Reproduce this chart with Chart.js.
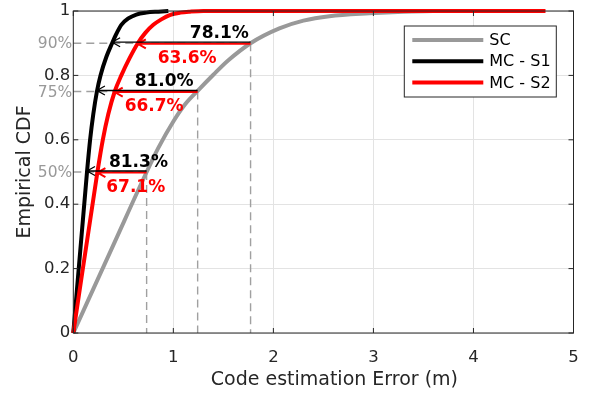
<!DOCTYPE html>
<html>
<head>
<meta charset="utf-8">
<script src="https://cdn.jsdelivr.net/npm/chart.js@4"></script>
<style>
  body { margin: 0; background: #fff; }
  #wrap { width: 590px; height: 393px; }
</style>
</head>
<body>
<div id="wrap"><canvas id="cdfChart"></canvas></div>
<script>
// curves
const seriesNames = ['SC', 'MC - S1', 'MC - S2'];
const seriesColors = ['#999999', '#000000', '#ff0000'];

const scX = [0, 0.4, 0.733, 0.85, 1.0, 1.12, 1.243, 1.4, 1.55, 1.772, 2.06, 2.3, 2.56, 2.96, 3.3, 3.6];
const scY = [0, 0.273, 0.5, 0.575, 0.657, 0.711, 0.752, 0.802, 0.847, 0.9, 0.946, 0.97, 0.984, 0.993, 0.998, 1.0];

const s1X = [0, 0.137, 0.168, 0.2, 0.236, 0.272, 0.33, 0.388, 0.43, 0.48, 0.55, 0.63, 0.73, 0.85, 0.95];
const s1Y = [0, 0.5, 0.6, 0.68, 0.75, 0.8, 0.857, 0.9, 0.929, 0.957, 0.977, 0.989, 0.995, 0.998, 1.0];

const s2X = [0, 0.241, 0.295, 0.35, 0.414, 0.48, 0.56, 0.645, 0.72, 0.8, 0.88, 0.97, 1.07, 1.17, 1.3, 4.72];
const s2Y = [0, 0.5, 0.6, 0.68, 0.75, 0.8, 0.852, 0.9, 0.932, 0.957, 0.974, 0.988, 0.995, 0.998, 1.0, 1.0];

// percentile markers
const levels = [0.5, 0.75, 0.9];
const levelNames = ['50%', '75%', '90%'];
const scAtLevel = [0.733, 1.243, 1.772];
const s1AtLevel = [0.137, 0.236, 0.388];
const s2AtLevel = [0.241, 0.414, 0.645];
const s1Gain = ['81.3%', '81.0%', '78.1%'];
const s2Gain = ['67.1%', '66.7%', '63.6%'];
// where the gain labels sit (x, in metres)
const s1LabelAt = [0.651, 0.908, 1.46];
const s2LabelAt = [0.624, 0.808, 1.138];

const xTicks = [0, 1, 2, 3, 4, 5];
const yTicks = [0, 0.2, 0.4, 0.6, 0.8, 1];
const xTitle = 'Code estimation Error (m)';

function toPoints(xs, ys) {
    return xs.map((x, i) => ({ x: x, y: ys[i] }));
}

const annotate = {
    id: 'annotate',
    beforeDatasetsDraw(chart) {
        const ctx = chart.ctx;
        const xs = chart.scales.x, ys = chart.scales.y;
        ctx.save();
        ctx.strokeStyle = '#a0a0a0';
        ctx.lineWidth = 1.4;
        ctx.setLineDash([8, 5]);
        levels.forEach((lv, i) => {
            const py = ys.getPixelForValue(lv);
            const px = xs.getPixelForValue(scAtLevel[i]);
            ctx.beginPath();
            ctx.moveTo(xs.getPixelForValue(0), py);
            ctx.lineTo(px, py);
            ctx.moveTo(px, py);
            ctx.lineTo(px, ys.getPixelForValue(0));
            ctx.stroke();
        });
        ctx.restore();
    },
    afterDatasetsDraw(chart) {
        const ctx = chart.ctx;
        const xs = chart.scales.x, ys = chart.scales.y;
        const area = chart.chartArea;
        ctx.save();

        function arrow(x0, x1, y, color, width) {
            ctx.strokeStyle = color;
            ctx.lineWidth = width;
            ctx.beginPath();
            ctx.moveTo(x0, y);
            ctx.lineTo(x1, y);
            ctx.moveTo(x1 + 8, y - 4.5);
            ctx.lineTo(x1, y);
            ctx.lineTo(x1 + 8, y + 4.5);
            ctx.stroke();
        }

        levels.forEach((lv, i) => {
            const py = ys.getPixelForValue(lv);
            const pSC = xs.getPixelForValue(scAtLevel[i]);
            arrow(pSC, xs.getPixelForValue(s2AtLevel[i]), py + 0.6, '#ff0000', 2);
            arrow(pSC, xs.getPixelForValue(s1AtLevel[i]), py - 1, '#000000', 1.3);

            ctx.font = 'bold 17px "DejaVu Sans"';
            ctx.textAlign = 'center';
            ctx.textBaseline = 'alphabetic';
            ctx.fillStyle = '#000000';
            ctx.fillText(s1Gain[i], xs.getPixelForValue(s1LabelAt[i]), py - 5.5);
            ctx.fillStyle = '#ff0000';
            ctx.fillText(s2Gain[i], xs.getPixelForValue(s2LabelAt[i]), py + 19.5);

            ctx.font = '15.5px "DejaVu Sans"';
            ctx.textAlign = 'right';
            ctx.textBaseline = 'middle';
            ctx.fillStyle = '#999999';
            ctx.fillText(levelNames[i], area.left - 1, py + 1);
        });

        // axes box with inward ticks
        ctx.strokeStyle = '#262626';
        ctx.lineWidth = 1;
        ctx.strokeRect(area.left, area.top, area.right - area.left, area.bottom - area.top);
        ctx.beginPath();
        xTicks.forEach(v => {
            const px = xs.getPixelForValue(v);
            ctx.moveTo(px, area.bottom); ctx.lineTo(px, area.bottom - 5);
            ctx.moveTo(px, area.top); ctx.lineTo(px, area.top + 5);
        });
        yTicks.forEach(v => {
            const py = ys.getPixelForValue(v);
            ctx.moveTo(area.left, py); ctx.lineTo(area.left + 5, py);
            ctx.moveTo(area.right, py); ctx.lineTo(area.right - 5, py);
        });
        ctx.stroke();

        // x label (sits a little right of the axes centre in the original)
        ctx.font = '19px "DejaVu Sans"';
        ctx.fillStyle = '#262626';
        ctx.textAlign = 'center';
        ctx.textBaseline = 'middle';
        ctx.fillText(xTitle, (area.left + area.right) / 2 + 11, 380);

        // legend box
        const lx = area.left + 331, ly = area.top + 15, lw = 152, lh = 71;
        ctx.fillStyle = '#ffffff';
        ctx.fillRect(lx, ly, lw, lh);
        ctx.strokeRect(lx, ly, lw, lh);
        ctx.font = '16px "DejaVu Sans"';
        ctx.textAlign = 'left';
        ctx.textBaseline = 'middle';
        seriesNames.forEach((name, i) => {
            const ry = ly + 14 + i * 21.3;
            ctx.strokeStyle = seriesColors[i];
            ctx.lineWidth = 4;
            ctx.beginPath();
            ctx.moveTo(lx + 8, ry);
            ctx.lineTo(lx + 79, ry);
            ctx.stroke();
            ctx.fillStyle = '#000000';
            ctx.fillText(name, lx + 85, ry + 1);
        });
        ctx.restore();
    }
};

const ctx = document.getElementById('cdfChart').getContext('2d');
const myChart = new Chart(ctx, {
    type: 'line',
    data: {
        datasets: [
            { label: seriesNames[0], data: toPoints(scX, scY), borderColor: seriesColors[0], order: 3 },
            { label: seriesNames[1], data: toPoints(s1X, s1Y), borderColor: seriesColors[1], order: 2 },
            { label: seriesNames[2], data: toPoints(s2X, s2Y), borderColor: seriesColors[2], order: 1 }
        ]
    },
    options: {
        responsive: true,
        maintainAspectRatio: false,
        animation: false,
        layout: { padding: { left: 0, top: 11, right: 16.5, bottom: 0 } },
        elements: {
            point: { radius: 0 },
            line: { borderWidth: 4, cubicInterpolationMode: 'monotone', fill: false }
        },
        datasets: { line: { clip: false } },
        plugins: {
            legend: { display: false },
            tooltip: { enabled: false }
        },
        scales: {
            x: {
                type: 'linear',
                min: 0,
                max: 5,
                ticks: { stepSize: 1, padding: 15, color: '#262626', font: { family: 'DejaVu Sans', size: 16.5 } },
                grid: { color: '#e3e3e3', drawTicks: false },
                border: { display: false },
                afterFit(scale) {
                    scale.height = 60;
                    scale.paddingLeft = 0;
                    scale.paddingRight = 0;
                }
            },
            y: {
                min: 0,
                max: 1,
                ticks: {
                    stepSize: 0.2,
                    padding: 3,
                    color: '#262626',
                    font: { family: 'DejaVu Sans', size: 16.5 },
                    callback: v => String(+v.toFixed(1))
                },
                grid: { color: '#e3e3e3', drawTicks: false },
                border: { display: false },
                title: {
                    display: true,
                    text: 'Empirical CDF',
                    color: '#262626',
                    font: { family: 'DejaVu Sans', size: 19 },
                    padding: { top: 14, bottom: 0 }
                },
                afterFit(scale) {
                    scale.width = 73.3;
                    scale.paddingTop = 0;
                    scale.paddingBottom = 0;
                }
            }
        }
    },
    plugins: [annotate]
});
</script>
</body>
</html>
